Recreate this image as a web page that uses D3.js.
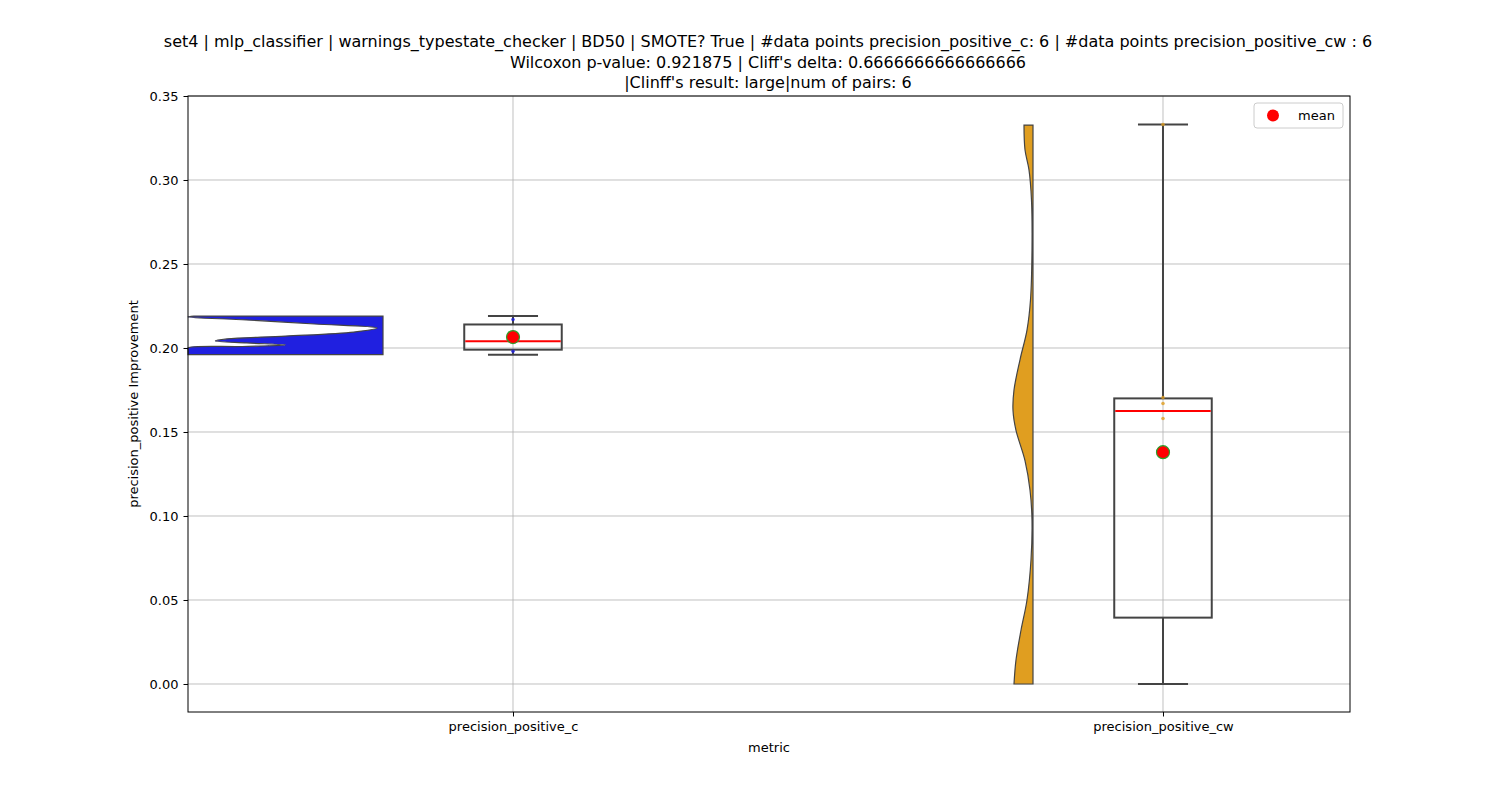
<!DOCTYPE html>
<html><head><meta charset="utf-8">
<script src="https://cdn.jsdelivr.net/npm/d3@7"></script>
<style>body{margin:0;background:#fff}text{font-family:"DejaVu Sans",sans-serif}</style>
</head><body><svg id="c" width="1500" height="800"></svg>
<script>
const categories = ["precision_positive_c","precision_positive_cw"];
const colors = ["#2020e0","#e09e20"];
const yTicks = [0,0.05,0.10,0.15,0.20,0.25,0.30,0.35];
const titleLines = ["set4 | mlp_classifier | warnings_typestate_checker | BD50 | SMOTE? True | #data points precision_positive_c: 6 | #data points precision_positive_cw : 6",
 "Wilcoxon p-value: 0.921875 | Cliff's delta: 0.6666666666666666",
 "|Clinff's result: large|num of pairs: 6"];
// box stats: whiskerLow, q1, median, q3, whiskerHigh, mean
const boxC = [0.196,0.199,0.204,0.214,0.219,0.2065];
const boxCW = [0.0,0.0395,0.1625,0.170,0.333,0.138];
const pointsC = [0.217,0.198];
const pointsCW = [0.333,0.1705,0.167,0.158];
// violin density profiles: [value, relative width]
const violinC = [[0.2190,0.97],[0.2185,1.0],[0.2167,0.7],[0.2143,0.35],[0.2119,0.03],[0.2095,0.15],[0.2071,0.5],[0.2054,0.8],[0.2042,0.86],[0.2030,0.7],[0.2018,0.5],[0.2009,0.72],[0.2,1.0],[0.1988,1.0],[0.196,1.0]];
const violinCW = [[0.3327,0.45],[0.318,0.4],[0.306,0.2],[0.288,0.075],[0.258,0.05],[0.2286,0.125],[0.2107,0.3],[0.193,0.65],[0.175,0.95],[0.163,1.0],[0.151,0.85],[0.133,0.4],[0.1155,0.15],[0.0976,0.05],[0.0738,0.1],[0.05,0.3],[0.032,0.6],[0.0143,0.85],[0,0.95]];

const svg = d3.select("#c");
const L=188,R=1350,T=96,B=712;
const y = d3.scaleLinear().domain([-0.01667,0.35]).range([B,T]);
const x = d3.scaleLinear().domain([-0.5,1.2877]).range([L,R]);
const vOff = -0.2, boxHalf = 0.075, capHalf = 0.0385;
const violinW = [195/650, 20/650];

// grid
const g = svg.append("g");
yTicks.forEach(t=>g.append("line").attr("x1",L).attr("x2",R).attr("y1",y(t)).attr("y2",y(t)).attr("stroke","#b0b0b0").attr("stroke-width",0.8));
[0,1].forEach(i=>g.append("line").attr("x1",x(i)).attr("x2",x(i)).attr("y1",T).attr("y2",B).attr("stroke","#b0b0b0").attr("stroke-width",0.8));

// violins
[[violinC,0],[violinCW,1]].forEach(([prof,i])=>{
  const edge = i+vOff;
  const pts = prof.map(d=>[x(edge - d[1]*violinW[i]), y(d[0])]);
  const top = prof[0][0], bot = prof[prof.length-1][0];
  const line = d3.line().curve(d3.curveCatmullRom);
  let p = "M"+x(edge)+","+y(top)+"L"+pts[0].join(",")+line(pts).slice(1).replace(/^[^C]*/,"")+"L"+x(edge)+","+y(bot)+"Z";
  p = "M"+x(edge)+","+y(top)+"L"+line(pts).slice(1)+"L"+x(edge)+","+y(bot)+"Z";
  svg.append("path").attr("d",p).attr("fill",colors[i]).attr("stroke","#444").attr("stroke-width",1.2);
});

// boxes
[[boxC,pointsC,0],[boxCW,pointsCW,1]].forEach(([b,pts,i])=>{
  const c=x(i), st="#444";
  svg.append("line").attr("x1",c).attr("x2",c).attr("y1",y(b[0])).attr("y2",y(b[1])).attr("stroke",st).attr("stroke-width",2);
  svg.append("line").attr("x1",c).attr("x2",c).attr("y1",y(b[3])).attr("y2",y(b[4])).attr("stroke",st).attr("stroke-width",2);
  [b[0],b[4]].forEach(v=>svg.append("line").attr("x1",x(i-capHalf)).attr("x2",x(i+capHalf)).attr("y1",y(v)).attr("y2",y(v)).attr("stroke",st).attr("stroke-width",2));
  svg.append("rect").attr("x",x(i-boxHalf)).attr("width",x(i+boxHalf)-x(i-boxHalf)).attr("y",y(b[3])).attr("height",y(b[1])-y(b[3])).attr("fill","none").attr("stroke",st).attr("stroke-width",2);
  svg.append("line").attr("x1",x(i-boxHalf)+1).attr("x2",x(i+boxHalf)-1).attr("y1",y(b[2])).attr("y2",y(b[2])).attr("stroke","red").attr("stroke-width",2);
  pts.forEach(v=>svg.append("circle").attr("cx",c).attr("cy",y(v)).attr("r",1.8).attr("fill",colors[i]).attr("opacity",0.8));
  svg.append("circle").attr("cx",c).attr("cy",y(b[5])).attr("r",6.5).attr("fill","red").attr("stroke","#2ca02c").attr("stroke-width",1.2);
});

// axes
svg.append("rect").attr("x",L).attr("y",T).attr("width",R-L).attr("height",B-T).attr("fill","none").attr("stroke","#000").attr("stroke-width",1);
const ya = svg.append("g").attr("transform",`translate(${L},0)`).call(d3.axisLeft(y).tickValues(yTicks).tickFormat(d3.format(".2f")).tickSize(4.5).tickPadding(5));
const xa = svg.append("g").attr("transform",`translate(0,${B})`).call(d3.axisBottom(x).tickValues([0,1]).tickFormat(i=>categories[i]).tickSize(4.5).tickPadding(5));
[ya,xa].forEach(a=>{a.select(".domain").remove();a.selectAll("text").attr("font-size",13).attr("fill","#000").style("font-family","DejaVu Sans");});
svg.append("text").attr("x",(L+R)/2).attr("y",752).attr("text-anchor","middle").attr("font-size",13).text("metric");
svg.append("text").attr("transform",`translate(138,${(T+B)/2}) rotate(-90)`).attr("text-anchor","middle").attr("font-size",13).text("precision_positive Improvement");
titleLines.forEach((t,k)=>svg.append("text").attr("x",768).attr("y",47+k*20.7).attr("text-anchor","middle").attr("font-size",16).text(t));

// legend
svg.append("rect").attr("x",1254).attr("y",103).attr("width",89).attr("height",25).attr("rx",3).attr("fill","#fff").attr("stroke","#ccc");
svg.append("circle").attr("cx",1273).attr("cy",115.5).attr("r",6).attr("fill","red");
svg.append("text").attr("x",1298).attr("y",120).attr("font-size",13).text("mean");
</script></body></html>
